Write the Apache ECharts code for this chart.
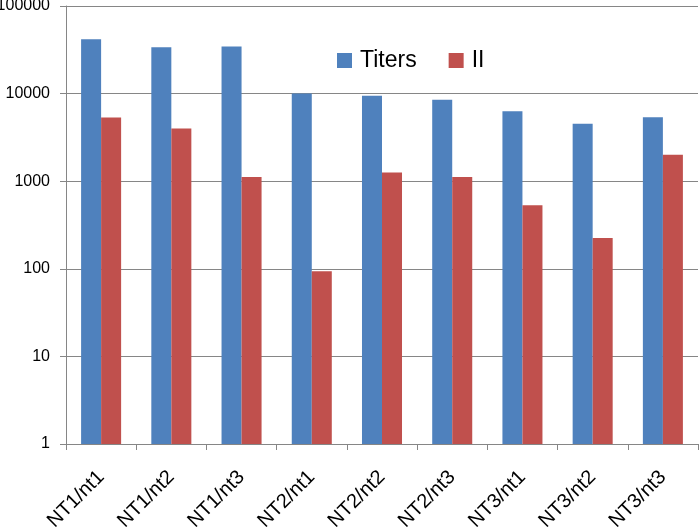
<!DOCTYPE html>
<html>
<head>
<meta charset="utf-8">
<script src="https://cdn.jsdelivr.net/npm/echarts@6/dist/echarts.min.js"></script>
<style>
html,body{margin:0;padding:0;background:#fff;}
#chart{width:699px;height:531px;}
</style>
</head>
<body>
<div id="chart"></div>
<script>
const categories = ['NT1/nt1','NT1/nt2','NT1/nt3','NT2/nt1','NT2/nt2','NT2/nt3','NT3/nt1','NT3/nt2','NT3/nt3'];
const titers = [41700, 33800, 34400, 10000, 9420, 8480, 6300, 4520, 5380];
const ii = [5330, 3990, 1115, 94, 1256, 1115, 532, 225, 2000];
const seriesNames = ['Titers', 'II'];

const chart = echarts.init(document.getElementById('chart'));
const font = 'Liberation Sans, Arial, sans-serif';
chart.setOption({
  animation: false,
  backgroundColor: '#ffffff',
  grid: { left: 66, right: 1, top: 6, bottom: 87, containLabel: false, outerBoundsMode: 'none' },
  legend: {
    data: seriesNames,
    left: 337, top: 49, padding: 0,
    itemWidth: 15, itemHeight: 15, itemGap: 32,
    icon: 'rect',
    textStyle: { fontFamily: font, fontSize: 23, color: '#000', padding: [0,0,0,3] }
  },
  xAxis: {
    type: 'category',
    data: categories,
    axisLine: { lineStyle: { color: '#868686', width: 1 } },
    axisTick: { show: true, length: 6, lineStyle: { color: '#868686' } },
    axisLabel: { rotate: 45, fontFamily: font, fontSize: 20, color: '#000', margin: 30, interval: 0 }
  },
  yAxis: {
    type: 'log',
    logBase: 10,
    min: 1, max: 100000,
    axisLine: { show: true, lineStyle: { color: '#868686', width: 1 } },
    axisTick: { show: true, length: 6, lineStyle: { color: '#868686' } },
    splitLine: { show: true, lineStyle: { color: '#868686', width: 1 } },
    axisLabel: { fontFamily: font, fontSize: 16, color: '#000', margin: 16,
      formatter: v => String(Math.round(v)) }
  },
  series: [
    { name: seriesNames[0], type: 'bar', data: titers, barGap: '0%', barCategoryGap: '43%',
      itemStyle: { color: '#4F81BD' } },
    { name: seriesNames[1], type: 'bar', data: ii, barGap: '0%', barCategoryGap: '43%',
      itemStyle: { color: '#C0504D' } }
  ]
});
</script>
</body>
</html>
